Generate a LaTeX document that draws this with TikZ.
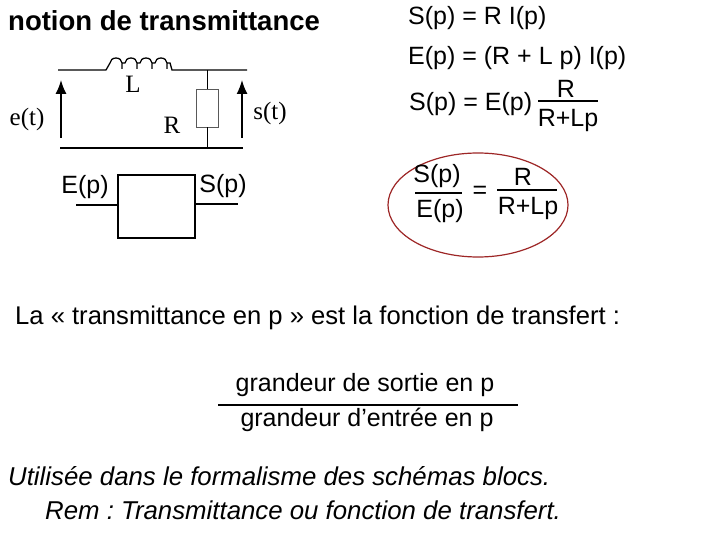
\documentclass[tikz,border=0pt]{standalone}
\usepackage{fontspec}
\usetikzlibrary{arrows.meta}
\setmainfont{Liberation Sans}
\newfontfamily\serif{Liberation Serif}
\frenchspacing
\begin{document}
\begin{tikzpicture}[x=1pt,y=-1pt,
 t/.style={inner sep=0pt,font=\fontsize{25}{29}\selectfont},
 s/.style={inner sep=0pt,font=\serif\fontsize{25}{29}\selectfont},
 w/.style={line width=1.3pt},
 tip/.style={-{Latex[length=14pt,width=11pt]},line width=1.5pt}]
\useasboundingbox (0,0) rectangle (720,540);
\node[t,anchor=west,font=\bfseries\fontsize{27.5}{31}\selectfont] (title) at (8,21) {notion de transmittance};
% circuit
\coordinate (tl) at (58,70); \coordinate (i1) at (93,70); \coordinate (i2) at (173,70);
\coordinate (tr) at (247,70); \coordinate (bl) at (60,148); \coordinate (br) at (243,148);
\draw[w] (tl) -- (i1) -- (106,70) -- (110,63)
 \foreach \k in {0,1,2,3} { arc(180:360:6 and 5) -- ++(0,6) -- ++(0,-6) -- ++(3,0) } -- (172,70) -- (i2) -- (tr);
\draw[line width=1.1pt] (bl) -- (br);
\node[draw,thick,gray!70!black,minimum width=22pt,minimum height=38pt,inner sep=0pt] (R) at (207,108) {};
\draw (207,70) -- (R.north); \draw (R.south) -- (207,148);
\coordinate (a1) at (61,138); \coordinate (a2) at (61,80);
\coordinate (b1) at (242,138); \coordinate (b2) at (242,80);
\draw[tip] (a1) -- (a2); \draw[tip] (b1) -- (b2);
\node[s] (L) at (133,84) {L};
\node[s] (Rl) at (172,125) {R};
\node[s] (et) at (27,119) {e(t)};
\node[s] (st) at (270,113) {s(t)};
% block
\node[draw,line width=1.3pt,minimum width=77pt,minimum height=63pt,inner sep=0pt] (blk) at (156.5,206.5) {};
\coordinate (in) at (76,205); \coordinate (out) at (238,204);
\draw[line width=1.3pt] (in) -- (blk.west |- in); \draw[line width=1.3pt] (blk.east |- out) -- (out);
\node[t] (Ep) at (85,187) {E(p)};
\node[t] (Sp) at (223,186) {S(p)};
% right equations
\node[t,anchor=west] (e1) at (408,18) {S(p) = R I(p)};
\node[t,anchor=west] (e2) at (408,58) {E(p) = (R + L p) I(p)};
\node[t,anchor=west] (e3) at (409,104) {S(p) = E(p)};
\node[t] (n3) at (566,89) {R};
\draw[line width=1.5pt] (538,101) -- (598,101);
\node[t] (d3) at (568,120) {R+Lp};
\draw[color=red!55!black!85,line width=1.2pt] (478,205) ellipse (90 and 52);
\node[t] (n4) at (437,176) {S(p)};
\draw[line width=1.5pt] (415,193) -- (462,193);
\node[t] (d4) at (440,211) {E(p)};
\node[t] (eq) at (480,192) {=};
\node[t] (n5) at (523,177) {R};
\draw[line width=1.5pt] (497,190) -- (557,190);
\node[t] (d5) at (528,208) {R+Lp};
% bottom text
\node[t,anchor=west,font=\fontsize{25.6}{29}\selectfont] (la) at (15,318) {La « transmittance en p » est la fonction de transfert :};
\node[t] (num) at (365,385) {grandeur de sortie en p};
\draw[line width=2.5pt] (218,405) -- (518,405);
\node[t] (den) at (367,420) {grandeur d’entrée en p};
\node[t,anchor=west,font=\itshape\fontsize{25.8}{29}\selectfont] (u1) at (8,476) {Utilisée dans le formalisme des schémas blocs.};
\node[t,anchor=west,font=\itshape\fontsize{25.8}{29}\selectfont] (u2) at (45,510) {Rem : Transmittance ou fonction de transfert.};
\end{tikzpicture}
\end{document}
